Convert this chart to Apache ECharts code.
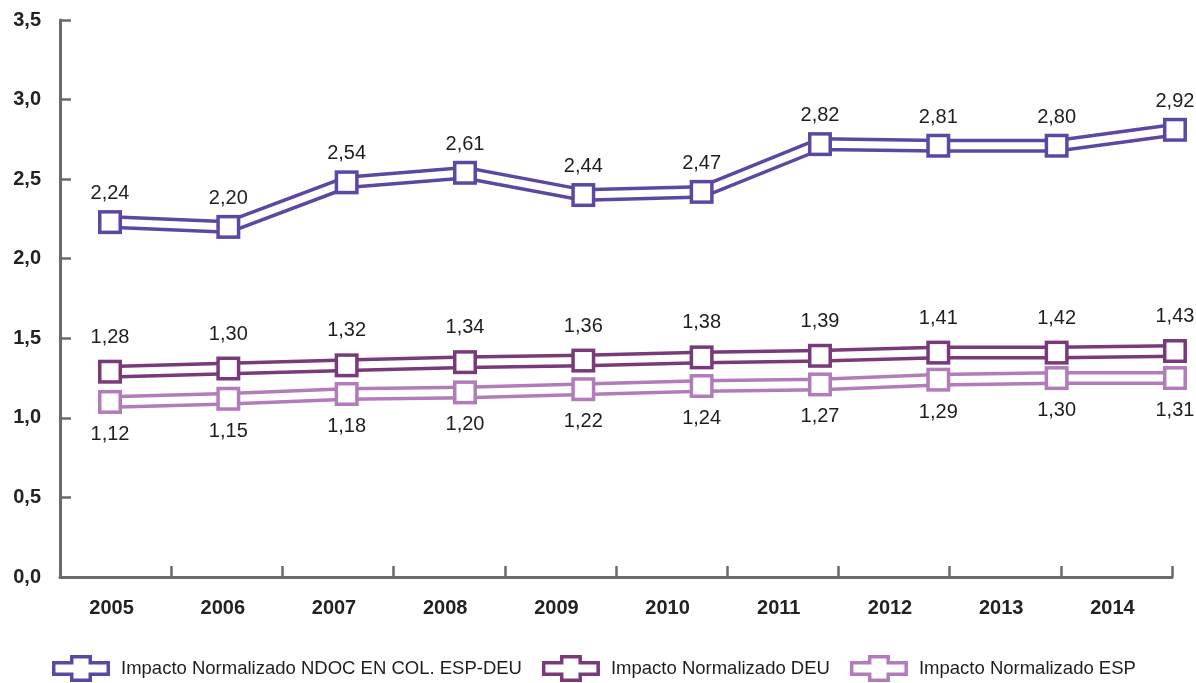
<!DOCTYPE html>
<html>
<head>
<meta charset="utf-8">
<script src="https://cdn.jsdelivr.net/npm/echarts@6/dist/echarts.min.js"></script>
<style>html,body{margin:0;padding:0;background:#fff;}#c{width:1196px;height:683px;}</style>
</head>
<body>
<div id="c"></div>
<script>
const years = ['2005','2006','2007','2008','2009','2010','2011','2012','2013','2014'];
const seriesNames = ['Impacto Normalizado NDOC EN COL. ESP-DEU','Impacto Normalizado DEU','Impacto Normalizado ESP'];
// values as drawn in the reference (marker heights)
const ndocValues = [2.23, 2.20, 2.48, 2.54, 2.40, 2.42, 2.72, 2.71, 2.71, 2.81];
const deuValues  = [1.29, 1.31, 1.33, 1.35, 1.36, 1.38, 1.39, 1.41, 1.41, 1.42];
const espValues  = [1.10, 1.12, 1.15, 1.16, 1.18, 1.20, 1.21, 1.24, 1.25, 1.25];
// printed data labels
const ndocLabels = ['2,24','2,20','2,54','2,61','2,44','2,47','2,82','2,81','2,80','2,92'];
const deuLabels  = ['1,28','1,30','1,32','1,34','1,36','1,38','1,39','1,41','1,42','1,43'];
const espLabels  = ['1,12','1,15','1,18','1,20','1,22','1,24','1,27','1,29','1,30','1,31'];
const yTicks = [0, 0.5, 1, 1.5, 2, 2.5, 3, 3.5];

const colors = ['#5B48A2', '#793A7A', '#B27CBA'];
const FONT = 'Liberation Sans, Arial, Helvetica, sans-serif';
const crossIcon = 'path://M0,6L18,6L18,0L40,0L40,6L58,6L58,21L40,21L40,27L18,27L18,21L0,21Z M3.5,9.5L3.5,17.5L21.5,17.5L21.5,23.5L36.5,23.5L36.5,17.5L54.5,17.5L54.5,9.5L36.5,9.5L36.5,3.5L21.5,3.5L21.5,9.5Z';

function pairs(vals){ return vals.map((v,i)=>[i,v]); }

function makeSeries(name, vals, labels, color, labelPos, dist){
  return [
    {
      name: name, type: 'line', xAxisIndex: 1, data: pairs(vals), clip: false,
      symbol: 'rect', symbolSize: 24, showAllSymbol: true,
      lineStyle: {color: color, width: 14, join: 'miter'},
      itemStyle: {color: color},
      emphasis: {disabled: true}, animation: false, silent: true
    },
    {
      name: name + ' (interior)', type: 'line', xAxisIndex: 1, data: pairs(vals), clip: false,
      symbol: 'rect', symbolSize: 17, showAllSymbol: true,
      lineStyle: {color: '#ffffff', width: 7, join: 'miter'},
      itemStyle: {color: '#ffffff'},
      label: {
        show: true, position: labelPos, distance: dist,
        formatter: p => labels[p.dataIndex],
        color: '#1e1e1e', fontSize: 20, fontFamily: FONT
      },
      emphasis: {disabled: true}, animation: false, silent: true
    }
  ];
}

const chart = echarts.init(document.getElementById('c'), null, {renderer: 'canvas'});
chart.setOption({
  animation: false,
  backgroundColor: '#ffffff',
  grid: {left: 60, right: 24, top: 20, bottom: 106, containLabel: false},
  legend: {
    data: seriesNames.map((n,i)=>({name: n, icon: crossIcon, itemStyle: {color: colors[i]}})),
    left: 52, top: 655, padding: 0, itemWidth: 58, itemHeight: 27, itemGap: 20,
    selectedMode: false,
    textStyle: {fontSize: 18.5, color: '#1e1e1e', fontFamily: FONT, padding: [0,0,0,6]}
  },
  xAxis: [
    {
      type: 'category', data: years, boundaryGap: true,
      axisLine: {onZero: false, lineStyle: {color: '#6b6b6b', width: 3}},
      axisTick: {show: true, inside: true, length: 11, interval: 0, lineStyle: {color: '#6b6b6b', width: 2.5}},
      axisLabel: {color: '#222', fontSize: 20, fontWeight: 'bold', fontFamily: FONT, margin: 21, padding: [0,8,0,0]},
      splitLine: {show: false}
    },
    {
      type: 'value', min: -0.4225, max: 8.975, show: false
    }
  ],
  yAxis: {
    type: 'value', min: 0, max: 3.5, interval: 0.5,
    axisLine: {show: true, onZero: false, lineStyle: {color: '#6b6b6b', width: 3}},
    axisTick: {show: true, inside: true, length: 11, lineStyle: {color: '#6b6b6b', width: 2.5}},
    axisLabel: {color: '#222', fontSize: 20, fontWeight: 'bold', fontFamily: FONT, margin: 19,
      formatter: v => { const t = yTicks.find(x => Math.abs(x - v) < 1e-9); return (t !== undefined ? t : v).toFixed(1).replace('.', ','); }},
    splitLine: {show: false}
  },
  series: [].concat(
    makeSeries(seriesNames[0], ndocValues, ndocLabels, colors[0], 'top', 10),
    makeSeries(seriesNames[1], deuValues, deuLabels, colors[1], 'top', 16),
    makeSeries(seriesNames[2], espValues, espLabels, colors[2], 'bottom', 14)
  )
});
</script>
</body>
</html>
